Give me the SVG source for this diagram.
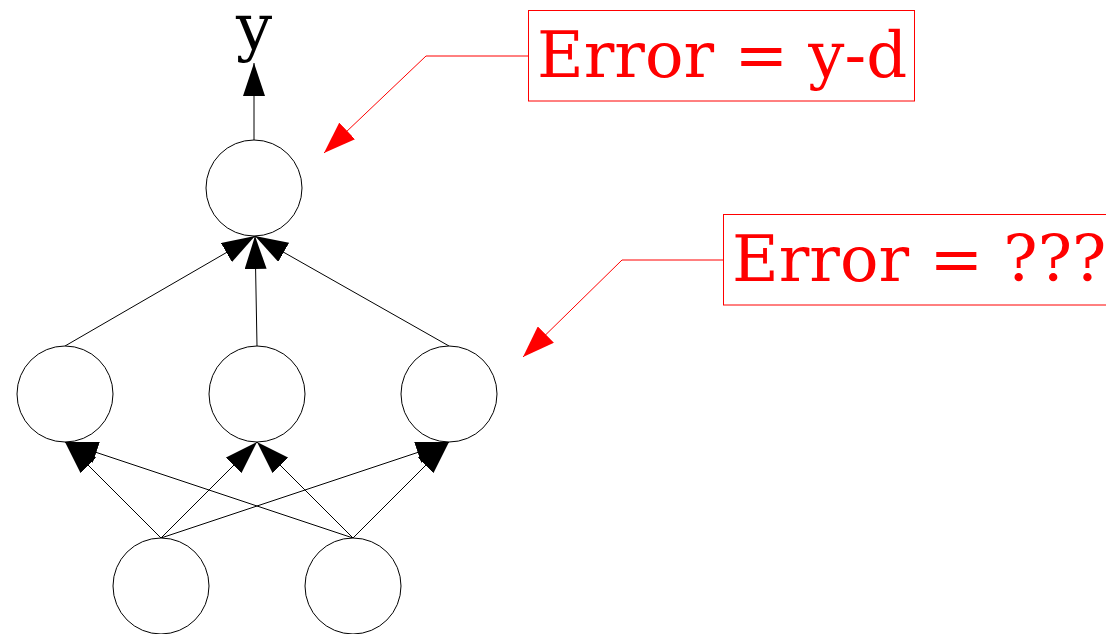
<svg xmlns="http://www.w3.org/2000/svg" width="1106" height="634" viewBox="0 0 1106 634">
<style>
.node{fill:#fff;stroke:#000;stroke-width:1}
.edge{stroke:#000;stroke-width:1;fill:none}
.lead{stroke:#f00;stroke-width:1;fill:none}
.box{fill:#fff;stroke:#f00;stroke-width:1}
.lbl{font-family:"DejaVu Serif","Liberation Serif",serif;font-size:64px}
.red{fill:#f00}
</style>
<defs>
<marker id="ab" viewBox="0 0 33 22" refX="33" refY="11" markerWidth="33" markerHeight="22" markerUnits="userSpaceOnUse" orient="auto">
<path d="M0,0 L33,11 L0,22 z" fill="#000"/>
</marker>
<marker id="ar" viewBox="0 0 32 23" refX="32" refY="11.5" markerWidth="32" markerHeight="23" markerUnits="userSpaceOnUse" orient="auto">
<path d="M0,0 L32,11.5 L0,23 z" fill="#f00"/>
</marker>
</defs>
<g id="connectors">
<line class="edge" x1="254" y1="140" x2="254" y2="63" marker-end="url(#ab)"/>
<line class="edge" x1="65" y1="346" x2="255" y2="236" marker-end="url(#ab)"/>
<line class="edge" x1="257" y1="346" x2="255" y2="236" marker-end="url(#ab)"/>
<line class="edge" x1="449" y1="346" x2="255" y2="236" marker-end="url(#ab)"/>
<line class="edge" x1="161" y1="538" x2="65" y2="442" marker-end="url(#ab)"/>
<line class="edge" x1="161" y1="538" x2="257" y2="442" marker-end="url(#ab)"/>
<line class="edge" x1="161" y1="538" x2="449" y2="442" marker-end="url(#ab)"/>
<line class="edge" x1="353" y1="538" x2="65" y2="442" marker-end="url(#ab)"/>
<line class="edge" x1="353" y1="538" x2="257" y2="442" marker-end="url(#ab)"/>
<line class="edge" x1="353" y1="538" x2="449" y2="442" marker-end="url(#ab)"/>
<polyline class="lead" points="528,56 426,56 324,153" marker-end="url(#ar)"/>
<polyline class="lead" points="723,260 622,260 523,357" marker-end="url(#ar)"/>
</g>
<g id="output-label">
<text class="lbl" x="254" y="49" text-anchor="middle" fill="#000">y</text>
</g>
<g id="out"><circle class="node" cx="254" cy="188" r="48"/></g>
<g id="h1"><circle class="node" cx="65" cy="394" r="48"/></g>
<g id="h2"><circle class="node" cx="257" cy="394" r="48"/></g>
<g id="h3"><circle class="node" cx="449" cy="394" r="48"/></g>
<g id="i1"><circle class="node" cx="161" cy="586" r="48"/></g>
<g id="i2"><circle class="node" cx="353" cy="586" r="48"/></g>
<g id="err1">
<rect class="box" x="528.5" y="10.5" width="386" height="90.5"/>
<text class="lbl red" x="537" y="77">Error = y-d</text>
</g>
<g id="err2">
<rect class="box" x="723.5" y="214.5" width="390" height="90.5"/>
<text class="lbl red" x="732" y="281">Error = ???</text>
</g>
</svg>
